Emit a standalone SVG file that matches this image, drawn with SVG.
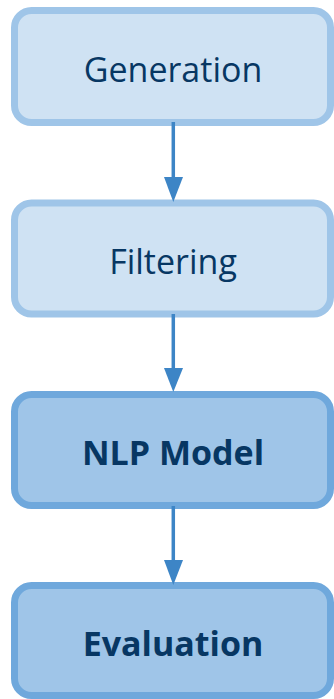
<svg xmlns="http://www.w3.org/2000/svg" width="334" height="699" viewBox="0 0 334 699">
<style>
.light rect{fill:#cfe2f3;stroke:#9fc5e8;stroke-width:7}
.dark rect{fill:#9fc5e8;stroke:#6fa8dc;stroke-width:7}
text{font-family:"Open Sans","Noto Sans",sans-serif;font-size:34px;fill:#073763;text-anchor:middle}
.dark text{font-weight:bold}
.conn line{stroke:#3d85c6;stroke-width:3.5}
.conn polygon{fill:#3d85c6}
</style>
<rect width="334" height="699" fill="#ffffff"/>
<g id="generation" class="light"><rect x="14.5" y="10.5" width="316" height="112" rx="17"/><text x="173" y="82">Generation</text></g>
<g id="filtering" class="light"><rect x="14.5" y="203" width="316" height="111" rx="17"/><text x="173" y="274">Filtering</text></g>
<g id="nlp-model" class="dark"><rect x="14.5" y="394.5" width="316" height="111" rx="17"/><text x="173" y="465">NLP Model</text></g>
<g id="evaluation" class="dark"><rect x="14.5" y="585.5" width="316" height="110" rx="17"/><text x="173" y="656">Evaluation</text></g>
<g id="connectors" class="conn">
<line x1="173.3" y1="122" x2="173.3" y2="180"/><polygon points="164,177 183,177 173.3,202"/>
<line x1="173.3" y1="314" x2="173.3" y2="371"/><polygon points="164,368 183,368 173.3,392"/>
<line x1="173.3" y1="506" x2="173.3" y2="563"/><polygon points="164,560 183,560 173.3,585"/>
</g>
</svg>
